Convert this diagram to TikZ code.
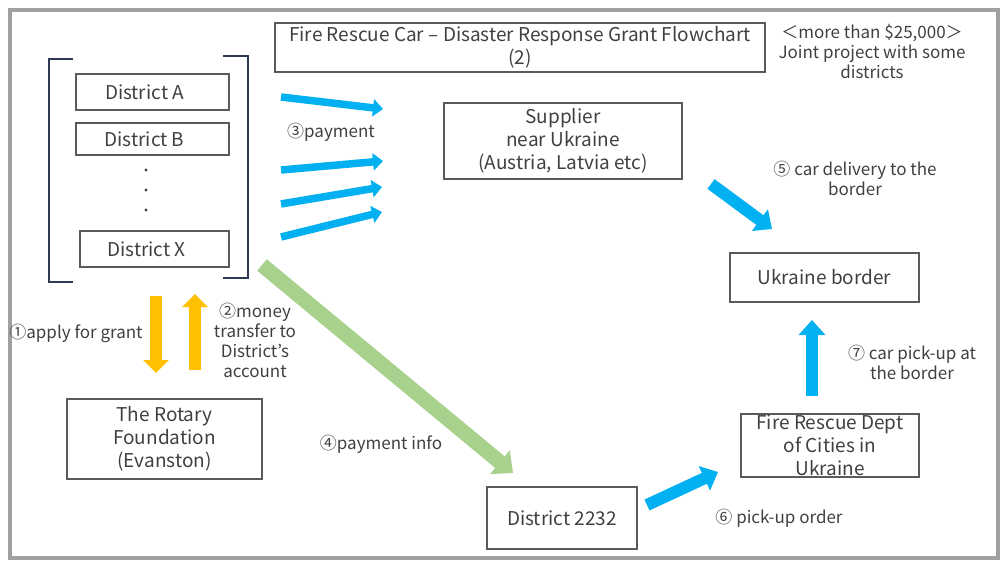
\documentclass[tikz,border=0pt]{standalone}
\usepackage{fontspec}
\setmainfont{Noto Sans CJK JP}
\usetikzlibrary{arrows.meta, positioning}

\definecolor{framegray}{HTML}{A0A0A0}
\definecolor{boxgray}{HTML}{5A5A5A}
\definecolor{txtgray}{HTML}{404040}
\definecolor{bracketblue}{HTML}{2E3A55}
\definecolor{payblue}{HTML}{00B0F0}
\definecolor{infogreen}{HTML}{A9D18E}
\definecolor{grantorange}{HTML}{FFC000}

\begin{document}
\begin{tikzpicture}[
    x=1pt, y=-1pt,
    font=\fontsize{19}{23}\selectfont,
    text=txtgray
]

    % styles
    \tikzset{
        box/.style={draw=boxgray, line width=1.3pt, inner sep=0pt, align=center},
        note/.style={font=\fontsize{17}{20}\selectfont, align=center, inner sep=0pt},
        bluearrow/.style={draw=payblue, line width=7.5pt, -{Triangle[length=10pt, width=17pt]}},
        bigblue/.style={draw=payblue, line width=12pt, -{Triangle[length=15pt, width=26pt]}},
        orangearrow/.style={draw=grantorange, line width=12pt, -{Triangle[length=13pt, width=25pt]}},
        greenarrow/.style={draw=infogreen, line width=15pt, -{Triangle[length=17pt, width=30pt]}}
    }

    \useasboundingbox (0,0) rectangle (1003,561);

    % outer frame
    \draw[framegray, line width=4.5pt] (10,10) rectangle (998,558);

    % title and note
    \node[box, minimum width=490pt, minimum height=49pt] (title) at (520,47.5)
        {Fire Rescue Car – Disaster Response Grant Flowchart\\(2)};
    \node[note] (amount) at (872,52) {＜more than \$25,000＞\\Joint project with some\\districts};

    % districts in bracket
    \node[box, minimum width=153pt, minimum height=36pt] (distA) at (152.5,92) {District A\hspace*{16pt}};
    \node[box, minimum width=153pt, minimum height=32pt] (distB) at (152.5,139) {District B\hspace*{16pt}};
    \node[box, minimum width=149pt, minimum height=36pt] (distX) at (154.5,249) {District X\hspace*{16pt}};
    \foreach \y in {170,190,210}
        \fill[txtgray] (146,\y) circle (1.6);
    \draw[bracketblue, line width=2.5pt] (73,59) -- (49,59) -- (49,282) -- (73,282);
    \draw[bracketblue, line width=2.5pt] (223,56) -- (248,56) -- (248,278) -- (223,278);

    % other boxes
    \node[box, minimum width=238pt, minimum height=76pt] (supplier) at (563,141)
        {Supplier\\near Ukraine\\(Austria, Latvia etc)};
    \node[box, minimum width=189pt, minimum height=49pt] (border) at (824.5,277.5) {Ukraine border};
    \node[box, minimum width=178pt, minimum height=63pt] (firedept) at (830,445.5)
        {Fire Rescue Dept\\of Cities in\\Ukraine};
    \node[box, minimum width=150pt, minimum height=62pt] (dist2232) at (562,518) {District 2232};
    \node[box, minimum width=195pt, minimum height=80pt] (rotary) at (164.5,439)
        {The Rotary\\Foundation\\(Evanston)};

    % arrow ends
    \coordinate (payA1) at (281,97);  \coordinate (payA2) at (383,109);
    \coordinate (payB1) at (281,170); \coordinate (payB2) at (383,161);
    \coordinate (payC1) at (281,204); \coordinate (payC2) at (382,187);
    \coordinate (payD1) at (281,237); \coordinate (payD2) at (382,212);
    \coordinate (deliv1) at (711,184); \coordinate (deliv2) at (772,229);
    \coordinate (pick1) at (812,396);  \coordinate (pick2) at (812,320);
    \coordinate (order1) at (647,505); \coordinate (order2) at (718,472);
    \coordinate (apply1) at (156,296); \coordinate (apply2) at (156,373);
    \coordinate (money1) at (195,370); \coordinate (money2) at (195,294);
    \coordinate (info1) at (262,265);  \coordinate (info2) at (513,473);

    % arrows
    \draw[bluearrow] (payA1) -- (payA2);
    \draw[bluearrow] (payB1) -- (payB2);
    \draw[bluearrow] (payC1) -- (payC2);
    \draw[bluearrow] (payD1) -- (payD2);
    \draw[bigblue] (deliv1) -- (deliv2);
    \draw[bigblue] (pick1) -- (pick2);
    \draw[bigblue] (order1) -- (order2);
    \draw[orangearrow] (apply1) -- (apply2);
    \draw[orangearrow] (money1) -- (money2);
    \draw[greenarrow] (info1) -- (info2);

    % arrow labels
    \node[note] (lpay) at (331,132) {③payment};
    \node[note] (ldeliv) at (855,178) {⑤ car delivery to the\\border};
    \node[note] (lpick) at (912,362) {⑦ car pick-up at\\the border};
    \node[note] (lorder) at (779,518) {⑥ pick-up order};
    \node[note] (linfo) at (381,444) {④payment info};
    \node[note] (lapply) at (76,333) {①apply for grant};
    \node[note] (lmoney) at (255,340)
        {②money\\transfer to\\District's\\account};

\end{tikzpicture}
\end{document}
